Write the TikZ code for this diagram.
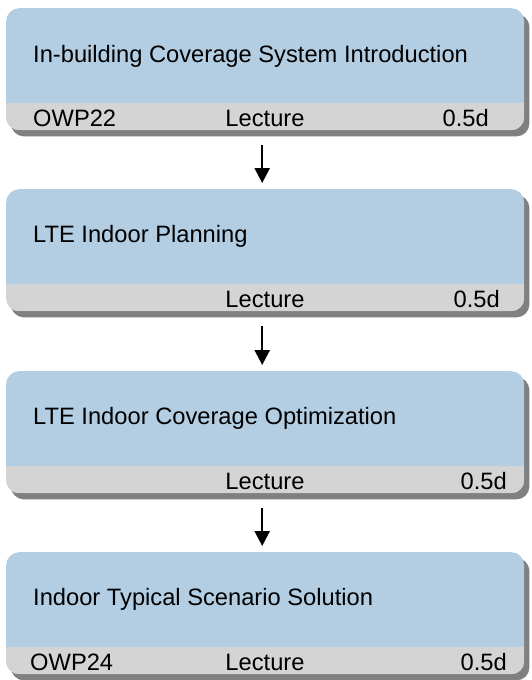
\documentclass[tikz,border=0pt]{standalone}
\usepackage{fontspec}
\setmainfont{Liberation Sans}
\usetikzlibrary{arrows.meta,backgrounds}

\definecolor{cardblue}{RGB}{179,206,227}
\definecolor{bandgrey}{RGB}{212,212,212}
\definecolor{shadowgrey}{RGB}{128,128,128}

\begin{document}
\begin{tikzpicture}[x=1pt,y=-1pt,
  card/.style={draw=none, fill=cardblue, rounded corners=13pt,
    minimum width=518pt, minimum height=122pt, inner sep=0pt, anchor=north west,
    path picture={\fill[bandgrey, sharp corners] ([yshift=27pt]path picture bounding box.south west)
      rectangle (path picture bounding box.south east);}},
  cardtext/.style={inner sep=0pt, font=\fontsize{23.7pt}{28pt}\selectfont, text=black},
  flow/.style={line width=2.4pt, -{Triangle[width=15pt,length=15pt]}},
  cardshadow/.style={fill=shadowgrey, rounded corners=13pt}]

  \useasboundingbox (0,0) rectangle (531,680);

  % course cards
  \node[card] (b1) at (6,8) {};
  \node[card] (b2) at (6,189) {};
  \node[card] (b3) at (6,371) {};
  \node[card] (b4) at (6,552) {};

  % drop shadows behind the cards
  \begin{scope}[on background layer]
    \foreach \c in {b1,b2,b3,b4}
      \fill[cardshadow] ([shift={(5pt,-6pt)}]\c.north west) rectangle ([shift={(5pt,-6pt)}]\c.south east);
  \end{scope}

  % titles
  \node[cardtext, anchor=base west] (t1) at ([shift={(27pt,-54pt)}]b1.north west) {In-building Coverage System Introduction};
  \node[cardtext, anchor=base west] (t2) at ([shift={(27pt,-53pt)}]b2.north west) {LTE Indoor Planning};
  \node[cardtext, anchor=base west] (t3) at ([shift={(27pt,-53pt)}]b3.north west) {LTE Indoor Coverage Optimization};
  \node[cardtext, anchor=base west] (t4) at ([shift={(27pt,-53pt)}]b4.north west) {Indoor Typical Scenario Solution};

  % course codes
  \node[cardtext, anchor=base west] (c1) at ([shift={(27pt,-118pt)}]b1.north west) {OWP22};
  \node[cardtext, anchor=base west] (c4) at ([shift={(24pt,-118pt)}]b4.north west) {OWP24};

  % delivery type
  \node[cardtext, anchor=base] (m1) at ([shift={(259pt,-118pt)}]b1.north west) {Lecture};
  \node[cardtext, anchor=base] (m2) at ([shift={(259pt,-118pt)}]b2.north west) {Lecture};
  \node[cardtext, anchor=base] (m3) at ([shift={(259pt,-118pt)}]b3.north west) {Lecture};
  \node[cardtext, anchor=base] (m4) at ([shift={(259pt,-118pt)}]b4.north west) {Lecture};

  % duration
  \node[cardtext, anchor=base east] (d1) at ([shift={(483pt,-118pt)}]b1.north west) {0.5d};
  \node[cardtext, anchor=base east] (d2) at ([shift={(494pt,-118pt)}]b2.north west) {0.5d};
  \node[cardtext, anchor=base east] (d3) at ([shift={(501pt,-118pt)}]b3.north west) {0.5d};
  \node[cardtext, anchor=base east] (d4) at ([shift={(501pt,-118pt)}]b4.north west) {0.5d};

  % sequence arrows
  \draw[flow] ([shift={(-3pt,-15pt)}]b1.south) -- ([shift={(-3pt,6pt)}]b2.north);
  \draw[flow] ([shift={(-3pt,-15pt)}]b2.south) -- ([shift={(-3pt,6pt)}]b3.north);
  \draw[flow] ([shift={(-3pt,-15pt)}]b3.south) -- ([shift={(-3pt,6pt)}]b4.north);
\end{tikzpicture}
\end{document}
